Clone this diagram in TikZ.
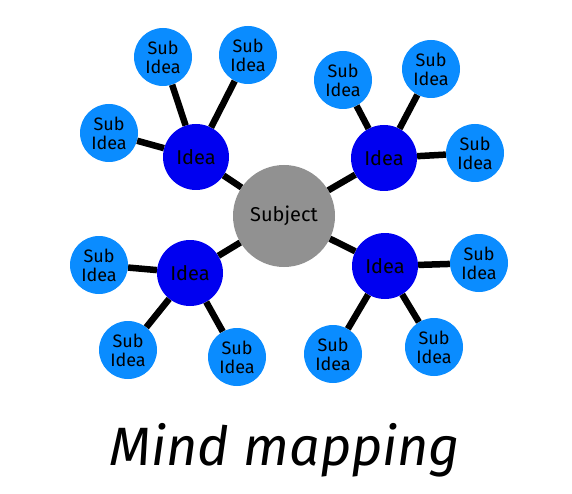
\documentclass[tikz,border=0pt]{standalone}
\usepackage{fontspec}
\setmainfont{Fira Sans}
\usepackage{tikz}
\usetikzlibrary{positioning}

\definecolor{subjgray}{RGB}{145,145,145}
\definecolor{ideablue}{RGB}{0,0,240}
\definecolor{subblue}{RGB}{10,140,255}

\begin{document}
\begin{tikzpicture}[x=1pt,y=-1pt,
  subject/.style={circle,fill=subjgray,inner sep=0pt,minimum size=102pt,font=\fontsize{20}{22}\selectfont},
  idea/.style={circle,fill=ideablue,inner sep=0pt,minimum size=66pt,font=\fontsize{20}{22}\selectfont},
  subidea/.style={circle,fill=subblue,inner sep=0pt,minimum size=58pt,align=center,font=\fontsize{18}{19}\selectfont},
  link/.style={line width=6.5pt}]
\useasboundingbox (0,0) rectangle (572,494);
\node[subject] (s) at (284,216) {Subject};
% ideas
\node[idea] (i1) at (196,157) {Idea};
\node[idea] (i2) at (384,158) {Idea};
\node[idea] (i3) at (190,273) {Idea};
\node[idea] (i4) at (385,266) {Idea};
% sub ideas
\node[subidea] (a1) at (163,57) {Sub\\Idea};
\node[subidea] (a2) at (248,55) {Sub\\Idea};
\node[subidea] (a3) at (109,133) {Sub\\Idea};
\node[subidea] (b1) at (343,80) {Sub\\Idea};
\node[subidea] (b2) at (431,69) {Sub\\Idea};
\node[subidea] (b3) at (475,153) {Sub\\Idea};
\node[subidea] (c1) at (99,265) {Sub\\Idea};
\node[subidea] (c2) at (128,350) {Sub\\Idea};
\node[subidea] (c3) at (237,357) {Sub\\Idea};
\node[subidea] (d1) at (479,263) {Sub\\Idea};
\node[subidea] (d2) at (333,354) {Sub\\Idea};
\node[subidea] (d3) at (434,347) {Sub\\Idea};
% links
\foreach \i in {i1,i2,i3,i4}
  \draw[link] (s) -- (\i);
\foreach \a in {a1,a2,a3}
  \draw[link] (i1) -- (\a);
\foreach \b in {b1,b2,b3}
  \draw[link] (i2) -- (\b);
\foreach \c in {c1,c2,c3}
  \draw[link] (i3) -- (\c);
\foreach \d in {d1,d2,d3}
  \draw[link] (i4) -- (\d);
\node[anchor=base,font=\fontsize{54}{60}\selectfont\itshape] (title) at (285,465) {Mind mapping};
\end{tikzpicture}
\end{document}
